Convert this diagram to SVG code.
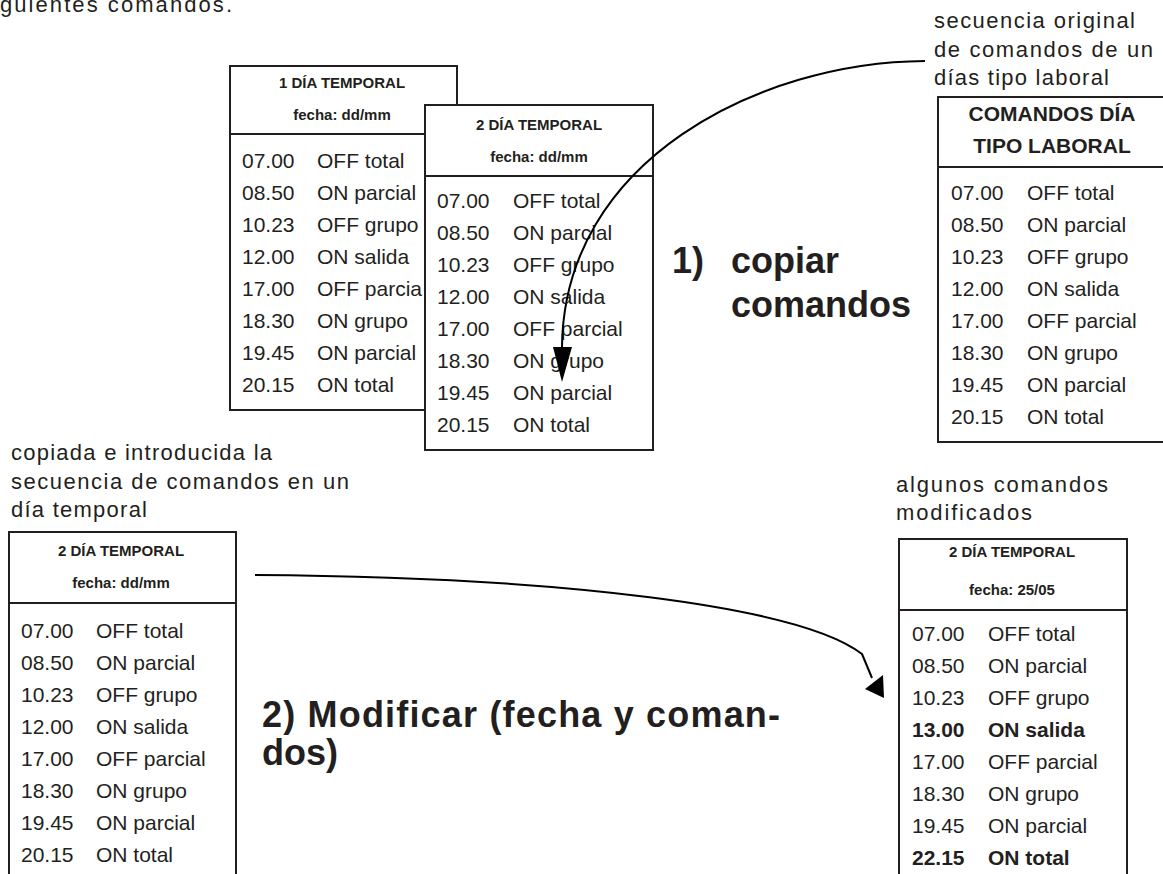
<svg xmlns="http://www.w3.org/2000/svg" width="1163" height="874" viewBox="0 0 1163 874">
<style>
text{font-family:"Liberation Sans",Arial,Helvetica,sans-serif;fill:#231f20}
.box{fill:#fff;stroke:#231f20;stroke-width:2}
.sep{stroke:#231f20;stroke-width:2;fill:none}
.hdr{font-size:15px;font-weight:bold;text-anchor:middle}
.hdr2{font-size:21px;font-weight:bold;text-anchor:middle}
.row{font-size:21px}
.b{font-weight:bold}
.lbl{font-size:22px}
.big{font-size:36px;font-weight:bold}
.conn{fill:none;stroke:#000;stroke-width:2}
.head{fill:#000;stroke:none}
</style>
<rect width="1163" height="874" fill="#fff"/>
<text class="lbl" x="0" y="12" textLength="232" lengthAdjust="spacing">guientes comandos.</text>

<g id="dia1">
<rect class="box" x="230" y="66" width="227" height="344"/>
<line class="sep" x1="230" y1="134" x2="457" y2="134"/>
<text class="hdr" x="342" y="88">1 DÍA TEMPORAL</text>
<text class="hdr" x="342" y="120">fecha: dd/mm</text>
<g class="row">
<text x="242" y="168">07.00</text><text x="317" y="168">OFF total</text>
<text x="242" y="200">08.50</text><text x="317" y="200">ON parcial</text>
<text x="242" y="232">10.23</text><text x="317" y="232">OFF grupo</text>
<text x="242" y="264">12.00</text><text x="317" y="264">ON salida</text>
<text x="242" y="296">17.00</text><text x="317" y="296">OFF parcia</text>
<text x="242" y="328">18.30</text><text x="317" y="328">ON grupo</text>
<text x="242" y="360">19.45</text><text x="317" y="360">ON parcial</text>
<text x="242" y="392">20.15</text><text x="317" y="392">ON total</text>
</g>
</g>

<g id="dia2">
<rect class="box" x="425" y="105" width="228" height="345"/>
<line class="sep" x1="425" y1="176" x2="653" y2="176"/>
<text class="hdr" x="539" y="130">2 DÍA TEMPORAL</text>
<text class="hdr" x="539" y="162">fecha: dd/mm</text>
<g class="row">
<text x="437" y="208">07.00</text><text x="513" y="208">OFF total</text>
<text x="437" y="240">08.50</text><text x="513" y="240">ON parcial</text>
<text x="437" y="272">10.23</text><text x="513" y="272">OFF grupo</text>
<text x="437" y="304">12.00</text><text x="513" y="304">ON salida</text>
<text x="437" y="336">17.00</text><text x="513" y="336">OFF parcial</text>
<text x="437" y="368">18.30</text><text x="513" y="368">ON grupo</text>
<text x="437" y="400">19.45</text><text x="513" y="400">ON parcial</text>
<text x="437" y="432">20.15</text><text x="513" y="432">ON total</text>
</g>
</g>

<g id="laboral">
<text class="lbl" x="934" y="28" textLength="201" lengthAdjust="spacing">secuencia original</text>
<text class="lbl" x="934" y="57" textLength="219" lengthAdjust="spacing">de comandos de un</text>
<text class="lbl" x="934" y="85" textLength="175" lengthAdjust="spacing">días tipo laboral</text>
<rect class="box" x="938" y="97" width="260" height="345"/>
<line class="sep" x1="938" y1="167" x2="1198" y2="167"/>
<text class="hdr2" x="1052" y="121">COMANDOS DÍA</text>
<text class="hdr2" x="1052" y="153">TIPO LABORAL</text>
<g class="row">
<text x="951" y="200">07.00</text><text x="1027" y="200">OFF total</text>
<text x="951" y="232">08.50</text><text x="1027" y="232">ON parcial</text>
<text x="951" y="264">10.23</text><text x="1027" y="264">OFF grupo</text>
<text x="951" y="296">12.00</text><text x="1027" y="296">ON salida</text>
<text x="951" y="328">17.00</text><text x="1027" y="328">OFF parcial</text>
<text x="951" y="360">18.30</text><text x="1027" y="360">ON grupo</text>
<text x="951" y="392">19.45</text><text x="1027" y="392">ON parcial</text>
<text x="951" y="424">20.15</text><text x="1027" y="424">ON total</text>
</g>
</g>

<g id="paso1">
<text class="big" x="672" y="273">1)</text>
<text class="big" x="731" y="273">copiar</text>
<text class="big" x="731" y="317">comandos</text>
</g>

<g id="copiada">
<text class="lbl" x="11" y="460" textLength="261" lengthAdjust="spacing">copiada e introducida la</text>
<text class="lbl" x="11" y="489" textLength="338" lengthAdjust="spacing">secuencia de comandos en un</text>
<text class="lbl" x="11" y="517" textLength="136" lengthAdjust="spacing">día temporal</text>
<rect class="box" x="9" y="532" width="227" height="380"/>
<line class="sep" x1="9" y1="603" x2="236" y2="603"/>
<text class="hdr" x="121" y="556">2 DÍA TEMPORAL</text>
<text class="hdr" x="121" y="588">fecha: dd/mm</text>
<g class="row">
<text x="21" y="638">07.00</text><text x="96" y="638">OFF total</text>
<text x="21" y="670">08.50</text><text x="96" y="670">ON parcial</text>
<text x="21" y="702">10.23</text><text x="96" y="702">OFF grupo</text>
<text x="21" y="734">12.00</text><text x="96" y="734">ON salida</text>
<text x="21" y="766">17.00</text><text x="96" y="766">OFF parcial</text>
<text x="21" y="798">18.30</text><text x="96" y="798">ON grupo</text>
<text x="21" y="830">19.45</text><text x="96" y="830">ON parcial</text>
<text x="21" y="862">20.15</text><text x="96" y="862">ON total</text>
</g>
</g>

<g id="paso2">
<text class="big" x="262" y="727" textLength="518" lengthAdjust="spacing">2) Modificar (fecha y coman-</text>
<text class="big" x="262" y="765">dos)</text>
</g>

<g id="modificados">
<text class="lbl" x="896" y="492" textLength="212" lengthAdjust="spacing">algunos comandos</text>
<text class="lbl" x="896" y="520" textLength="136" lengthAdjust="spacing">modificados</text>
<rect class="box" x="899" y="539" width="228" height="380"/>
<line class="sep" x1="899" y1="610" x2="1127" y2="610"/>
<text class="hdr" x="1012" y="557">2 DÍA TEMPORAL</text>
<text class="hdr" x="1012" y="595">fecha: 25/05</text>
<g class="row">
<text x="912" y="641">07.00</text><text x="988" y="641">OFF total</text>
<text x="912" y="673">08.50</text><text x="988" y="673">ON parcial</text>
<text x="912" y="705">10.23</text><text x="988" y="705">OFF grupo</text>
<text class="b" x="912" y="737">13.00</text><text class="b" x="988" y="737">ON salida</text>
<text x="912" y="769">17.00</text><text x="988" y="769">OFF parcial</text>
<text x="912" y="801">18.30</text><text x="988" y="801">ON grupo</text>
<text x="912" y="833">19.45</text><text x="988" y="833">ON parcial</text>
<text class="b" x="912" y="865">22.15</text><text class="b" x="988" y="865">ON total</text>
</g>
</g>

<g id="connectors">
<path class="conn" d="M925,61 C760,62 563,160 562,348"/>
<polygon class="head" points="553,347 572,347 562,382"/>
<path class="conn" d="M255,575 C560,577 800,606 862,654 L872,678"/>
<polygon class="head" points="865,689 883,675 884,698"/>
</g>
</svg>
